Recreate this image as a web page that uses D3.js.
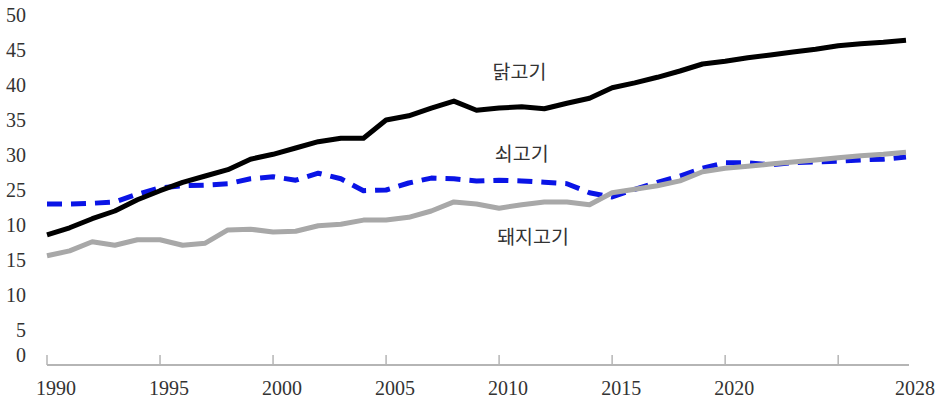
<!DOCTYPE html>
<html>
<head>
<meta charset="utf-8">
<script src="https://cdn.jsdelivr.net/npm/d3@7"></script>
<style>
  body { margin: 0; background: #fff; }
  svg { display: block; }
</style>
</head>
<body>
<div id="chart"></div>
<script>
"use strict";

// data ****************************************************************
var years = d3.range(1990, 2029);

var chicken = [18.6, 19.6, 20.9, 22.0, 23.6, 24.9, 26.1, 27.0, 27.9, 29.4,
  30.1, 31.0, 31.9, 32.4, 32.4, 35.0, 35.6, 36.7, 37.7, 36.4,
  36.7, 36.9, 36.6, 37.4, 38.1, 39.6, 40.3, 41.1, 42.0, 43.0,
  43.4, 43.9, 44.3, 44.7, 45.1, 45.6, 45.9, 46.1, 46.4];

var beef = [23.0, 23.0, 23.1, 23.3, 24.4, 25.3, 25.6, 25.7, 25.9, 26.6,
  26.9, 26.4, 27.4, 26.6, 24.9, 25.0, 26.0, 26.7, 26.6, 26.3,
  26.4, 26.3, 26.1, 25.9, 24.6, 24.0, 25.1, 26.1, 27.0, 28.1,
  28.9, 28.9, 28.6, 28.9, 29.0, 29.1, 29.3, 29.4, 29.7];

var pork = [15.6, 16.3, 17.6, 17.1, 17.9, 17.9, 17.1, 17.4, 19.3, 19.4,
  19.0, 19.1, 19.9, 20.1, 20.7, 20.7, 21.1, 22.0, 23.3, 23.0,
  22.4, 22.9, 23.3, 23.3, 22.9, 24.6, 25.1, 25.6, 26.3, 27.6,
  28.1, 28.4, 28.7, 29.0, 29.3, 29.6, 29.9, 30.1, 30.4];

var seriesNames = ["닭고기", "쇠고기", "돼지고기"];

var yTickValues = [0, 5, 10, 15, 20, 25, 30, 35, 40, 45, 50];
var yTickLabels = ["0", "5", "10", "15", "10", "25", "30", "35", "40", "45", "50"];
var xTickValues = [1990, 1995, 2000, 2005, 2010, 2015, 2020, 2025];
var xLabelValues = [1990, 1995, 2000, 2005, 2010, 2015, 2020, 2028];

// layout ****************************************************************
var width = 939;
var height = 400;

var x = d3.scaleLinear().domain([1990, 2028]).range([47, 906]);
var y = d3.scaleLinear().domain([0, 50]).range([365, 15]);

var svg = d3.select("#chart")
  .append("svg")
  .attr("width", width)
  .attr("height", height);

var numFont = "'Liberation Serif', 'DejaVu Serif', serif";
var krFont = "'Noto Sans CJK KR', 'Noto Sans', sans-serif";

// y labels (no axis line)
svg.append("g")
  .selectAll("text")
  .data(yTickValues)
  .enter()
  .append("text")
  .attr("x", 26)
  .attr("y", function(d) { return y(d) + (d === 0 ? -10 : 0); })
  .attr("dy", "0.35em")
  .attr("text-anchor", "end")
  .style("font-family", numFont)
  .style("font-size", "20px")
  .style("fill", "#333")
  .text(function(d, i) { return yTickLabels[i]; });

// x axis line + ticks
var xg = svg.append("g");
xg.append("line")
  .attr("x1", x(1990))
  .attr("x2", x(2028) + 3)
  .attr("y1", y(0))
  .attr("y2", y(0))
  .style("stroke", "#b5b5b5")
  .style("stroke-width", 2);

xg.selectAll(".tick")
  .data(xTickValues)
  .enter()
  .append("line")
  .attr("class", "tick")
  .attr("x1", function(d) { return x(d); })
  .attr("x2", function(d) { return x(d); })
  .attr("y1", y(0))
  .attr("y2", y(0) - 10)
  .style("stroke", "#b5b5b5")
  .style("stroke-width", 1.5);

xg.selectAll(".xlab")
  .data(xLabelValues)
  .enter()
  .append("text")
  .attr("class", "xlab")
  .attr("x", function(d) { return x(d) + 9; })
  .attr("y", 388)
  .attr("dy", "0.35em")
  .attr("text-anchor", "middle")
  .style("font-family", numFont)
  .style("font-size", "20px")
  .style("fill", "#333")
  .text(function(d) { return d; });

// lines ****************************************************************
var line = d3.line()
  .x(function(d, i) { return x(years[i]); })
  .y(function(d) { return y(d); });

svg.append("path")
  .datum(beef)
  .attr("d", line)
  .style("fill", "none")
  .style("stroke", "#0a14e6")
  .style("stroke-width", 5)
  .style("stroke-dasharray", "15,9")
  .style("stroke-linejoin", "round");

svg.append("path")
  .datum(pork)
  .attr("d", line)
  .style("fill", "none")
  .style("stroke", "#a8a8a8")
  .style("stroke-width", 5)
  .style("stroke-linejoin", "round");

svg.append("path")
  .datum(chicken)
  .attr("d", line)
  .style("fill", "none")
  .style("stroke", "#000")
  .style("stroke-width", 5)
  .style("stroke-linejoin", "round");

// series labels, anchored in data units
var labelPos = [
  { year: 2010.9, value: 41.9 },
  { year: 2011.0, value: 30.1 },
  { year: 2011.5, value: 18.3 }
];

svg.append("g")
  .selectAll("text")
  .data(seriesNames)
  .enter()
  .append("text")
  .attr("x", function(d, i) { return x(labelPos[i].year); })
  .attr("y", function(d, i) { return y(labelPos[i].value); })
  .attr("dy", "0.35em")
  .attr("text-anchor", "middle")
  .style("font-family", krFont)
  .style("font-size", "19.5px")
  .style("fill", "#333")
  .text(function(d) { return d; });
</script>
</body>
</html>
